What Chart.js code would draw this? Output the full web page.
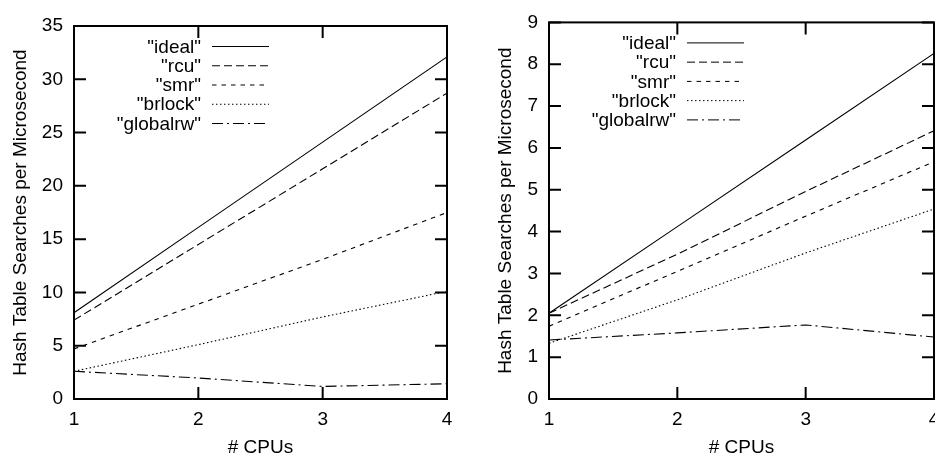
<!DOCTYPE html>
<html>
<head>
<meta charset="utf-8">
<script src="https://cdn.jsdelivr.net/npm/chart.js@4"></script>
<style>
  html, body { margin: 0; padding: 0; background: #fff; overflow: hidden; }
  #wrap { position: relative; width: 935px; height: 457px; overflow: hidden; }
  canvas { position: absolute; top: 0; }
  #leftChart { left: 0; }
  #rightChart { left: 467px; }
</style>
</head>
<body>
<div id="wrap">
  <canvas id="leftChart" width="467" height="457"></canvas>
  <canvas id="rightChart" width="490" height="457"></canvas>
</div>
<script>
// ===== DATA =====
const cpus = [1, 2, 3, 4];
const seriesNames = ['"ideal"', '"rcu"', '"smr"', '"brlock"', '"globalrw"'];

// left plot
const leftIdeal    = [8.1, 16.1, 24.1, 32.1];
const leftRcu      = [7.4, 14.5, 21.6, 28.7];
const leftSmr      = [4.7, 8.9, 13.1, 17.5];
const leftBrlock   = [2.6, 5.1, 7.7, 10.1];
const leftGlobalrw = [2.6, 1.97, 1.18, 1.43];

// right plot
const rightIdeal    = [2.05, 4.12, 6.19, 8.26];
const rightRcu      = [2.05, 3.46, 4.96, 6.41];
const rightSmr      = [1.74, 3.05, 4.37, 5.67];
const rightBrlock   = [1.33, 2.37, 3.49, 4.54];
const rightGlobalrw = [1.41, 1.58, 1.77, 1.48];

const xTitle = "# CPUs";
const yTitle = "Hash Table Searches per Microsecond";

// line styles, one per series
const dashes = [[], [8, 4], [4.5, 5], [1.5, 2.5], [11, 4, 2, 4]];

const FONT = "'Liberation Sans', Arial, sans-serif";

function toPoints(vals) {
  return vals.map((v, i) => ({ x: cpus[i], y: v }));
}

// ===== PLUGINS =====
// gnuplot-ish frame + inward ticks on all four sides
const framePlugin = {
  id: "frame",
  afterDatasetsDraw(chart) {
    const ctx = chart.ctx;
    const a = chart.chartArea;
    const xs = chart.scales.x;
    const ys = chart.scales.y;
    const tl = 12;
    ctx.save();
    ctx.strokeStyle = "#000";
    ctx.lineWidth = 2;
    ctx.beginPath();
    xs.ticks.forEach(t => {
      const px = xs.getPixelForValue(t.value);
      ctx.moveTo(px, a.bottom);
      ctx.lineTo(px, a.bottom - tl);
      ctx.moveTo(px, a.top);
      ctx.lineTo(px, a.top + tl);
    });
    ys.ticks.forEach(t => {
      const py = ys.getPixelForValue(t.value);
      ctx.moveTo(a.left, py);
      ctx.lineTo(a.left + tl, py);
      ctx.moveTo(a.right, py);
      ctx.lineTo(a.right - tl, py);
    });
    ctx.stroke();
    ctx.strokeRect(a.left, a.top, a.right - a.left, a.bottom - a.top);
    ctx.restore();
  }
};

// key: right-aligned labels with the line sample to their right
const keyPlugin = {
  id: "key",
  afterDatasetsDraw(chart) {
    const ctx = chart.ctx;
    const a = chart.chartArea;
    const textRight = a.left + 127;
    const x0 = a.left + 138;
    const x1 = a.left + 195;
    const y0 = a.top + 20.5;
    const step = 19.25;
    ctx.save();
    ctx.font = "19px " + FONT;
    ctx.fillStyle = "#000";
    ctx.textAlign = "right";
    ctx.textBaseline = "middle";
    chart.data.datasets.forEach((ds, i) => {
      const y = y0 + i * step;
      ctx.fillText(ds.label, textRight, y + 1);
      ctx.strokeStyle = "#000";
      ctx.lineWidth = 1;
      ctx.setLineDash(ds.borderDash || []);
      ctx.beginPath();
      ctx.moveTo(x0, y);
      ctx.lineTo(x1, y);
      ctx.stroke();
    });
    ctx.restore();
  }
};

// ===== CHART =====
function makeChart(id, series, yMax, yStep, pad, yWidth, yTitlePad) {
  const ctx = document.getElementById(id).getContext("2d");
  return new Chart(ctx, {
    type: "line",
    data: {
      datasets: series.map((vals, i) => ({
        label: seriesNames[i],
        data: toPoints(vals),
        borderColor: "#000",
        borderWidth: 1.1,
        borderDash: dashes[i],
        pointRadius: 0,
        fill: false,
        tension: 0
      }))
    },
    options: {
      responsive: false,
      animation: false,
      devicePixelRatio: 1,
      layout: { padding: pad },
      plugins: {
        legend: { display: false },
        tooltip: { enabled: false }
      },
      scales: {
        x: {
          type: "linear",
          min: 1,
          max: 4,
          grid: { display: false, drawTicks: false },
          border: { display: false },
          ticks: {
            stepSize: 1,
            padding: 9,
            color: "#000",
            font: { family: FONT, size: 19 },
            maxRotation: 0
          },
          title: {
            display: true,
            text: xTitle,
            color: "#000",
            font: { family: FONT, size: 19, lineHeight: 1 },
            padding: { top: 0, bottom: 0 }
          },
          afterFit(scale) { scale.height = 58; }
        },
        y: {
          min: 0,
          max: yMax,
          grid: { display: false, drawTicks: false },
          border: { display: false },
          ticks: {
            stepSize: yStep,
            padding: 11,
            color: "#000",
            font: { family: FONT, size: 19 }
          },
          title: {
            display: true,
            text: yTitle,
            color: "#000",
            font: { family: FONT, size: 19 },
            padding: { top: yTitlePad, bottom: 0 }
          },
          afterFit(scale) { scale.width = yWidth; }
        }
      }
    },
    plugins: [framePlugin, keyPlugin]
  });
}

makeChart("leftChart",
  [leftIdeal, leftRcu, leftSmr, leftBrlock, leftGlobalrw],
  35, 5, { top: 26, right: 20, left: 0, bottom: 0 }, 74, 9);

makeChart("rightChart",
  [rightIdeal, rightRcu, rightSmr, rightBrlock, rightGlobalrw],
  9, 1, { top: 15, right: 23, left: 0, bottom: 0 }, 82, 27);
</script>
</body>
</html>
